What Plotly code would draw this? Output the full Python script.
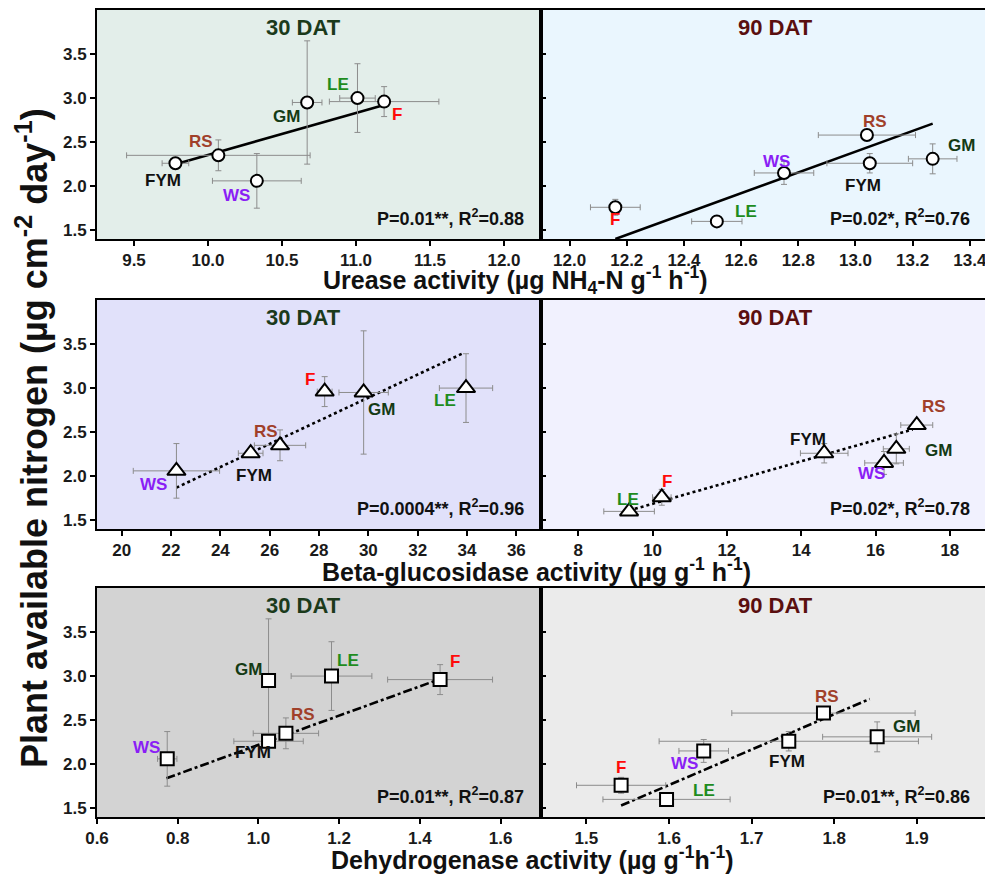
import plotly.graph_objects as go

# ---------------- data ----------------
treatments = ["FYM", "RS", "WS", "GM", "LE", "F"]
label_colors = ["#111111", "#A0402A", "#8A1EF5", "#143A14", "#1E8C1E", "#FF0A0A"]

# Plant available nitrogen (y) at 30 and 90 DAT
pan_30 = [2.26, 2.35, 2.06, 2.95, 3.00, 2.96]
pan_30_err = [0.04, 0.175, 0.31, 0.70, 0.39, 0.17]
pan_90 = [2.26, 2.58, 2.15, 2.31, 1.60, 1.76]
pan_90_err = [0.11, 0.02, 0.13, 0.17, 0.02, 0.09]

# Enzyme activities (x)
urease_30 = [9.78, 10.07, 10.33, 10.67, 11.01, 11.19]
urease_30_err = [0.09, 0.62, 0.30, 0.10, 0.12, 0.37]
urease_90 = [13.05, 13.04, 12.75, 13.27, 12.515, 12.16]
urease_90_err = [0.15, 0.17, 0.104, 0.085, 0.088, 0.087]

beta_30 = [25.23, 26.42, 22.22, 29.81, 33.96, 28.23]
beta_30_err = [0.5, 1.04, 1.75, 1.0, 1.08, 0.3]
beta_90 = [14.62, 17.11, 16.23, 16.56, 9.37, 10.25]
beta_90_err = [0.64, 0.43, 0.52, 0.35, 0.68, 0.25]

dehy_30 = [1.025, 1.068, 0.774, 1.025, 1.181, 1.45]
dehy_30_err = [0.086, 0.081, 0.024, 0.015, 0.10, 0.13]
dehy_90 = [1.745, 1.787, 1.642, 1.852, 1.597, 1.542]
dehy_90_err = [0.157, 0.111, 0.030, 0.066, 0.077, 0.054]

# Regression line end points
fit_urease_30_x = [9.78, 11.19]
fit_urease_30_y = [2.25, 2.92]
fit_urease_90_x = [12.16, 13.27]
fit_urease_90_y = [1.40, 2.71]
fit_beta_30_x = [22.22, 33.8]
fit_beta_30_y = [1.87, 3.39]
fit_beta_90_x = [9.37, 17.0]
fit_beta_90_y = [1.61, 2.53]
fit_dehy_30_x = [0.772, 1.44]
fit_dehy_30_y = [1.84, 2.95]
fit_dehy_90_x = [1.542, 1.843]
fit_dehy_90_y = [1.53, 2.74]

stats_text = ["P=0.01**, R<sup>2</sup>=0.88", "P=0.02*, R<sup>2</sup>=0.76",
              "P=0.0004**, R<sup>2</sup>=0.96", "P=0.02*, R<sup>2</sup>=0.78",
              "P=0.01**, R<sup>2</sup>=0.87", "P=0.01**, R<sup>2</sup>=0.86"]

x_titles = ["Urease activity (µg NH<sub>4</sub>-N g<sup>-1</sup> h<sup>-1</sup>)",
            "Beta-glucosidase activity (µg g<sup>-1</sup> h<sup>-1</sup>)",
            "Dehydrogenase activity (µg g<sup>-1</sup>h<sup>-1</sup>)"]
y_title = "Plant available nitrogen (µg cm<sup>-2</sup> day<sup>-1</sup>)"

y_ticks = [1.5, 2.0, 2.5, 3.0, 3.5]

# ---------------- style / layout ----------------
# The page body has an 8 px default margin; the figure is sized to fit the window.
OFF = 8
W, H = 993 - OFF, 875 - OFF


def px(xp):
    return (xp - OFF) / W


def py(yp):
    return 1 - (yp - OFF) / H


FONT = "Arial, Liberation Sans, Helvetica, sans-serif"
bg_colors = ["#E3EEEA", "#EAF6FE", "#E1E1FA", "#F1F1FE", "#D3D3D3", "#EBEBEB"]
x_ranges = [[9.25, 12.25], [11.9, 13.46], [19, 37], [7, 19], [0.6, 1.7], [1.445, 1.985]]
x_dticks = [0.5, 0.2, 2, 2, 0.2, 0.1]
x_formats = [".1f", ".1f", "d", "d", ".1f", ".1f"]
symbols = ["circle", "circle", "triangle-up", "triangle-up", "square", "square"]
marker_sizes = [12, 12, 16, 16, 13, 13]
dashes = ["solid", "solid", "dot", "dot", "dashdot", "dashdot"]

# pixel boxes in page coordinates (left, right, top, bottom)
col_px = [(97, 541), (541, 987)]
row_px = [(10, 239), (300, 529), (588, 817)]

# label offsets (xshift, yshift) per panel, order of treatments
offsets = [
    [(-12, -17), (-17, 14), (-20, -15), (-21, -14), (-19, 14), (13, -13)],
    [(-7, -22), (8, 14), (-8, 11), (29, 13), (29, 10), (0, -12)],
    [(3, -22), (-14, 14), (-23, -14), (18, -17), (-21, -12), (-15, 12)],
    [(-16, 14), (17, 19), (-13, -11), (42, -2), (-1, 12), (5, 16)],
    [(-16, -11), (17, 19), (-21, 11), (-20, 11), (16, 16), (15, 18)],
    [(-2, -20), (4, 17), (-19, -13), (29, 10), (37, 9), (0, 18)],
]

xs = [urease_30, urease_90, beta_30, beta_90, dehy_30, dehy_90]
xerrs = [urease_30_err, urease_90_err, beta_30_err, beta_90_err, dehy_30_err, dehy_90_err]
ys = [pan_30, pan_90] * 3
yerrs = [pan_30_err, pan_90_err] * 3
fits = [(fit_urease_30_x, fit_urease_30_y), (fit_urease_90_x, fit_urease_90_y),
        (fit_beta_30_x, fit_beta_30_y), (fit_beta_90_x, fit_beta_90_y),
        (fit_dehy_30_x, fit_dehy_30_y), (fit_dehy_90_x, fit_dehy_90_y)]

fig = go.Figure()
layout = dict(width=W, height=H, margin=dict(l=0, r=0, t=0, b=0, autoexpand=False),
              paper_bgcolor="white", plot_bgcolor="white", showlegend=False,
              font=dict(family=FONT, color="#111111"))
annotations = []
shapes = []

for i in range(6):
    r, c = divmod(i, 2)
    n = "" if i == 0 else str(i + 1)
    xa, ya = "x" + n, "y" + n
    L, R = col_px[c]
    T, B = row_px[r]
    xdom = [px(L), px(R)]
    ydom = [py(B), py(T)]

    # background
    shapes.append(dict(type="rect", xref="paper", yref="paper", layer="below",
                       x0=xdom[0], x1=xdom[1], y0=ydom[0], y1=ydom[1],
                       fillcolor=bg_colors[i], line=dict(width=0)))

    fx, fy = fits[i]
    fig.add_trace(go.Scatter(x=fx, y=fy, mode="lines", xaxis=xa, yaxis=ya,
                             line=dict(color="black", width=2.6, dash=dashes[i]),
                             hoverinfo="skip"))
    fig.add_trace(go.Scatter(
        x=xs[i], y=ys[i], mode="markers", xaxis=xa, yaxis=ya,
        marker=dict(symbol=symbols[i], size=marker_sizes[i], color="white",
                    line=dict(color="black", width=2)),
        error_x=dict(type="data", array=xerrs[i], color="#8C8C8C", thickness=1, width=3),
        error_y=dict(type="data", array=yerrs[i], color="#8C8C8C", thickness=1, width=3),
        text=treatments, hoverinfo="text+x+y"))

    tickfont = dict(size=17, family=FONT, color="#1a1a1a", weight="bold")
    layout["xaxis" + n] = dict(
        domain=xdom, anchor=ya, range=x_ranges[i], dtick=x_dticks[i],
        tickformat=x_formats[i], showgrid=False, zeroline=False, automargin=False,
        showline=True, mirror=True, linecolor="black", linewidth=2,
        ticks="outside", ticklen=5, tickwidth=1.5, tickcolor="black",
        tickfont=tickfont)
    layout["yaxis" + n] = dict(
        domain=ydom, anchor=xa, range=[1.4, 4.0], tickvals=y_ticks,
        tickformat=".1f", showgrid=False, zeroline=False, automargin=False,
        showline=True, mirror=True, linecolor="black", linewidth=2,
        ticks="outside" if c == 0 else "inside", ticklen=5, tickwidth=1.5,
        tickcolor="black", showticklabels=(c == 0),
        tickfont=tickfont)

    # treatment labels
    for k, t in enumerate(treatments):
        dx, dy = offsets[i][k]
        annotations.append(dict(x=xs[i][k], y=ys[i][k], xref=xa, yref=ya,
                                text="<b>%s</b>" % t, showarrow=False,
                                xanchor="center", yanchor="middle",
                                xshift=dx, yshift=dy,
                                font=dict(size=17, family=FONT, color=label_colors[k])))

    # panel title
    title_cx = 303 if c == 0 else 775
    annotations.append(dict(x=px(title_cx), y=py(T + 17), xref="paper", yref="paper",
                            text="<b>%s</b>" % ("30 DAT" if c == 0 else "90 DAT"),
                            showarrow=False, xanchor="center", yanchor="middle",
                            font=dict(size=22, family=FONT,
                                      color="#1B3A1B" if c == 0 else "#5A0F0F")))
    # statistics
    annotations.append(dict(x=px(R - 15), y=py(B - 22),
                            xref="paper", yref="paper", xanchor="right",
                            yanchor="middle", text="<b>%s</b>" % stats_text[i],
                            showarrow=False,
                            font=dict(size=18, family=FONT, color="#111111")))

# axis titles
title_centers = [(516, 280), (536, 570), (532, 858)]
for j, t in enumerate(x_titles):
    cx, cy = title_centers[j]
    annotations.append(dict(x=px(cx), y=py(cy), xref="paper", yref="paper",
                            text="<b>%s</b>" % t, showarrow=False,
                            xanchor="center", yanchor="middle",
                            font=dict(size=25, family=FONT, color="#111111")))
annotations.append(dict(x=px(32), y=py(438), xref="paper", yref="paper",
                        text="<b>%s</b>" % y_title, textangle=-90, showarrow=False,
                        xanchor="center", yanchor="middle",
                        font=dict(size=36, family=FONT, color="#111111")))

layout["annotations"] = annotations
layout["shapes"] = shapes
fig.update_layout(**layout)
fig.write_html("out.html")
